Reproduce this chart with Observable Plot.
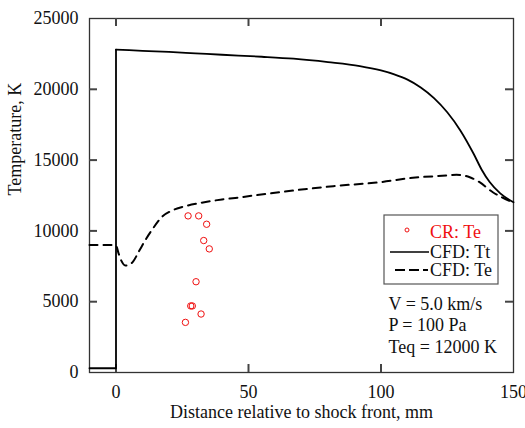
<!DOCTYPE html>
<html><head><meta charset="utf-8">
<script src="https://cdn.jsdelivr.net/npm/d3@7"></script>
<script src="https://cdn.jsdelivr.net/npm/@observablehq/plot@0.6"></script>
<style>body{margin:0;background:#fff}</style>
</head><body><div id="chart"></div>
<script>
// CFD: Tt (translational temperature), pre-shock + jump, then post-shock
const ttPreX = [-10, 0, 0];
const ttPreY = [300, 300, 22800];
const ttPostX = [0, 10, 20, 30, 40, 55, 67, 80, 92, 100, 105, 110, 115, 120, 125, 130, 135, 138, 141, 145, 150];
const ttPostY = [22800, 22720, 22640, 22540, 22440, 22300, 22160, 21920, 21640, 21330, 21055, 20680, 20130, 19380, 18380, 17080, 15430, 14320, 13450, 12650, 12025];
// CFD: Te (electron temperature)
const teX = [-10, -1, 0, 1, 2, 3.5, 5, 6.5, 8.7, 11.2, 13.7, 17.4, 21.2, 26.2, 32, 40, 45, 57, 70, 82, 99.6, 112, 124.7, 128.5, 133.5, 137.2, 142.2, 146, 150];
const teY = [9000, 9000, 8950, 8400, 7900, 7560, 7600, 7850, 8570, 9390, 10100, 11000, 11440, 11750, 11980, 12220, 12330, 12620, 12920, 13160, 13440, 13750, 13910, 13960, 13790, 13440, 12730, 12340, 12000];
// CR: Te (collisional-radiative points)
const crX = [27.2, 31.2, 34.2, 33.1, 35.2, 30.2, 28.2, 28.8, 32.1, 26.2];
const crY = [11060, 11060, 10470, 9320, 8730, 6410, 4700, 4700, 4130, 3540];

const xTicks = [0, 50, 100, 150];
const yTicks = [0, 5000, 10000, 15000, 20000, 25000];
const xInner = [0, 50, 100];
const yInner = [5000, 10000, 15000, 20000];
const legendLabels = ["CR: Te", "CFD: Tt", "CFD: Te"];
const annotation = ["V = 5.0 km/s", "P = 100 Pa", "Teq = 12000 K"];
const xLabel = "Distance relative to shock front, mm";
const yLabel = "Temperature, K";

const FONT = "'Liberation Serif','Times New Roman',serif";
const toRows = (xs, ys) => xs.map((x, i) => ({x, y: ys[i]}));
const W = 525, H = 428, ML = 89, MR = 12, MT = 18, MB = 56, TICK = 8;
const FW = W - ML - MR, FH = H - MT - MB;
const xDom = [-10, 150], yDom = [0, 25000];
// tick length expressed in data units of each scale
const tx = (xDom[1] - xDom[0]) * TICK / FW, ty = (yDom[1] - yDom[0]) * TICK / FH;
const tickStyle = {stroke: "#444", strokeWidth: 2};

const chart = Plot.plot({
  width: W, height: H,
  marginLeft: ML, marginRight: MR, marginTop: MT, marginBottom: MB,
  style: {fontFamily: FONT, fontSize: "18px", background: "#fff", color: "#111"},
  x: {domain: xDom},
  y: {domain: yDom},
  marks: [
    Plot.axisX({ticks: xTicks, tickSize: 0, tickPadding: 13, label: null, fontSize: 18, fontFamily: FONT}),
    Plot.axisY({ticks: yTicks, tickSize: 0, tickPadding: 11, label: null, fontSize: 18, fontFamily: FONT, tickFormat: d3.format("d")}),
    Plot.frame({stroke: "#333", strokeWidth: 1.3}),
    Plot.ruleX(xInner, {x: d => d, y1: yDom[0], y2: yDom[0] + ty, ...tickStyle}),
    Plot.ruleX(xInner, {x: d => d, y1: yDom[1] - ty, y2: yDom[1], ...tickStyle}),
    Plot.ruleY(yInner, {y: d => d, x1: xDom[0], x2: xDom[0] + tx, ...tickStyle}),
    Plot.ruleY(yInner, {y: d => d, x1: xDom[1] - tx, x2: xDom[1], ...tickStyle}),
    Plot.line(toRows(teX, teY), {x: "x", y: "y", curve: "monotone-x", stroke: "#000", strokeWidth: 2, strokeDasharray: "8,6"}),
    Plot.line(toRows(ttPreX, ttPreY), {x: "x", y: "y", curve: "linear", stroke: "#000", strokeWidth: 1.8}),
    Plot.line(toRows(ttPostX, ttPostY), {x: "x", y: "y", curve: "monotone-x", stroke: "#000", strokeWidth: 1.8}),
    Plot.dot(toRows(crX, crY), {x: "x", y: "y", r: 3.2, stroke: "#f01010", strokeWidth: 1}),
    Plot.text([xLabel], {frameAnchor: "bottom", dy: 45, fontSize: 18, fontFamily: FONT, fill: "#111"}),
    Plot.text([yLabel], {frameAnchor: "left", dx: -74, rotate: -90, fontSize: 18, fontFamily: FONT, fill: "#111"}),
    Plot.text([annotation.join("\n")], {frameAnchor: "top-left", dx: 299, dy: 306, textAnchor: "start", lineAnchor: "middle", lineHeight: 1.2, fontSize: 18, fontFamily: FONT, fill: "#111"})
  ]
});
document.getElementById("chart").appendChild(chart);

// Legend box inside the plot
const svg = d3.select(chart);
const g = svg.append("g").attr("font-family", FONT).attr("font-size", 18).attr("text-anchor", "start");
g.append("rect").attr("x", 384).attr("y", 215).attr("width", 114).attr("height", 69)
  .attr("fill", "#fff").attr("stroke", "#555").attr("stroke-width", 1.2);
const rowY = [232, 252, 270];
g.append("circle").attr("cx", 407).attr("cy", rowY[0] - 2).attr("r", 2).attr("fill", "none").attr("stroke", "#f01010");
g.append("line").attr("x1", 390).attr("x2", 429).attr("y1", rowY[1]).attr("y2", rowY[1]).attr("stroke", "#000").attr("stroke-width", 1.5);
g.append("line").attr("x1", 395).attr("x2", 428).attr("y1", rowY[2]).attr("y2", rowY[2]).attr("stroke", "#000").attr("stroke-width", 2).attr("stroke-dasharray", "10,4");
legendLabels.forEach((t, i) => {
  g.append("text").attr("x", 430).attr("y", rowY[i]).attr("dy", "0.35em")
    .attr("fill", i === 0 ? "#f01010" : "#111").text(t);
});
</script>
</body></html>
